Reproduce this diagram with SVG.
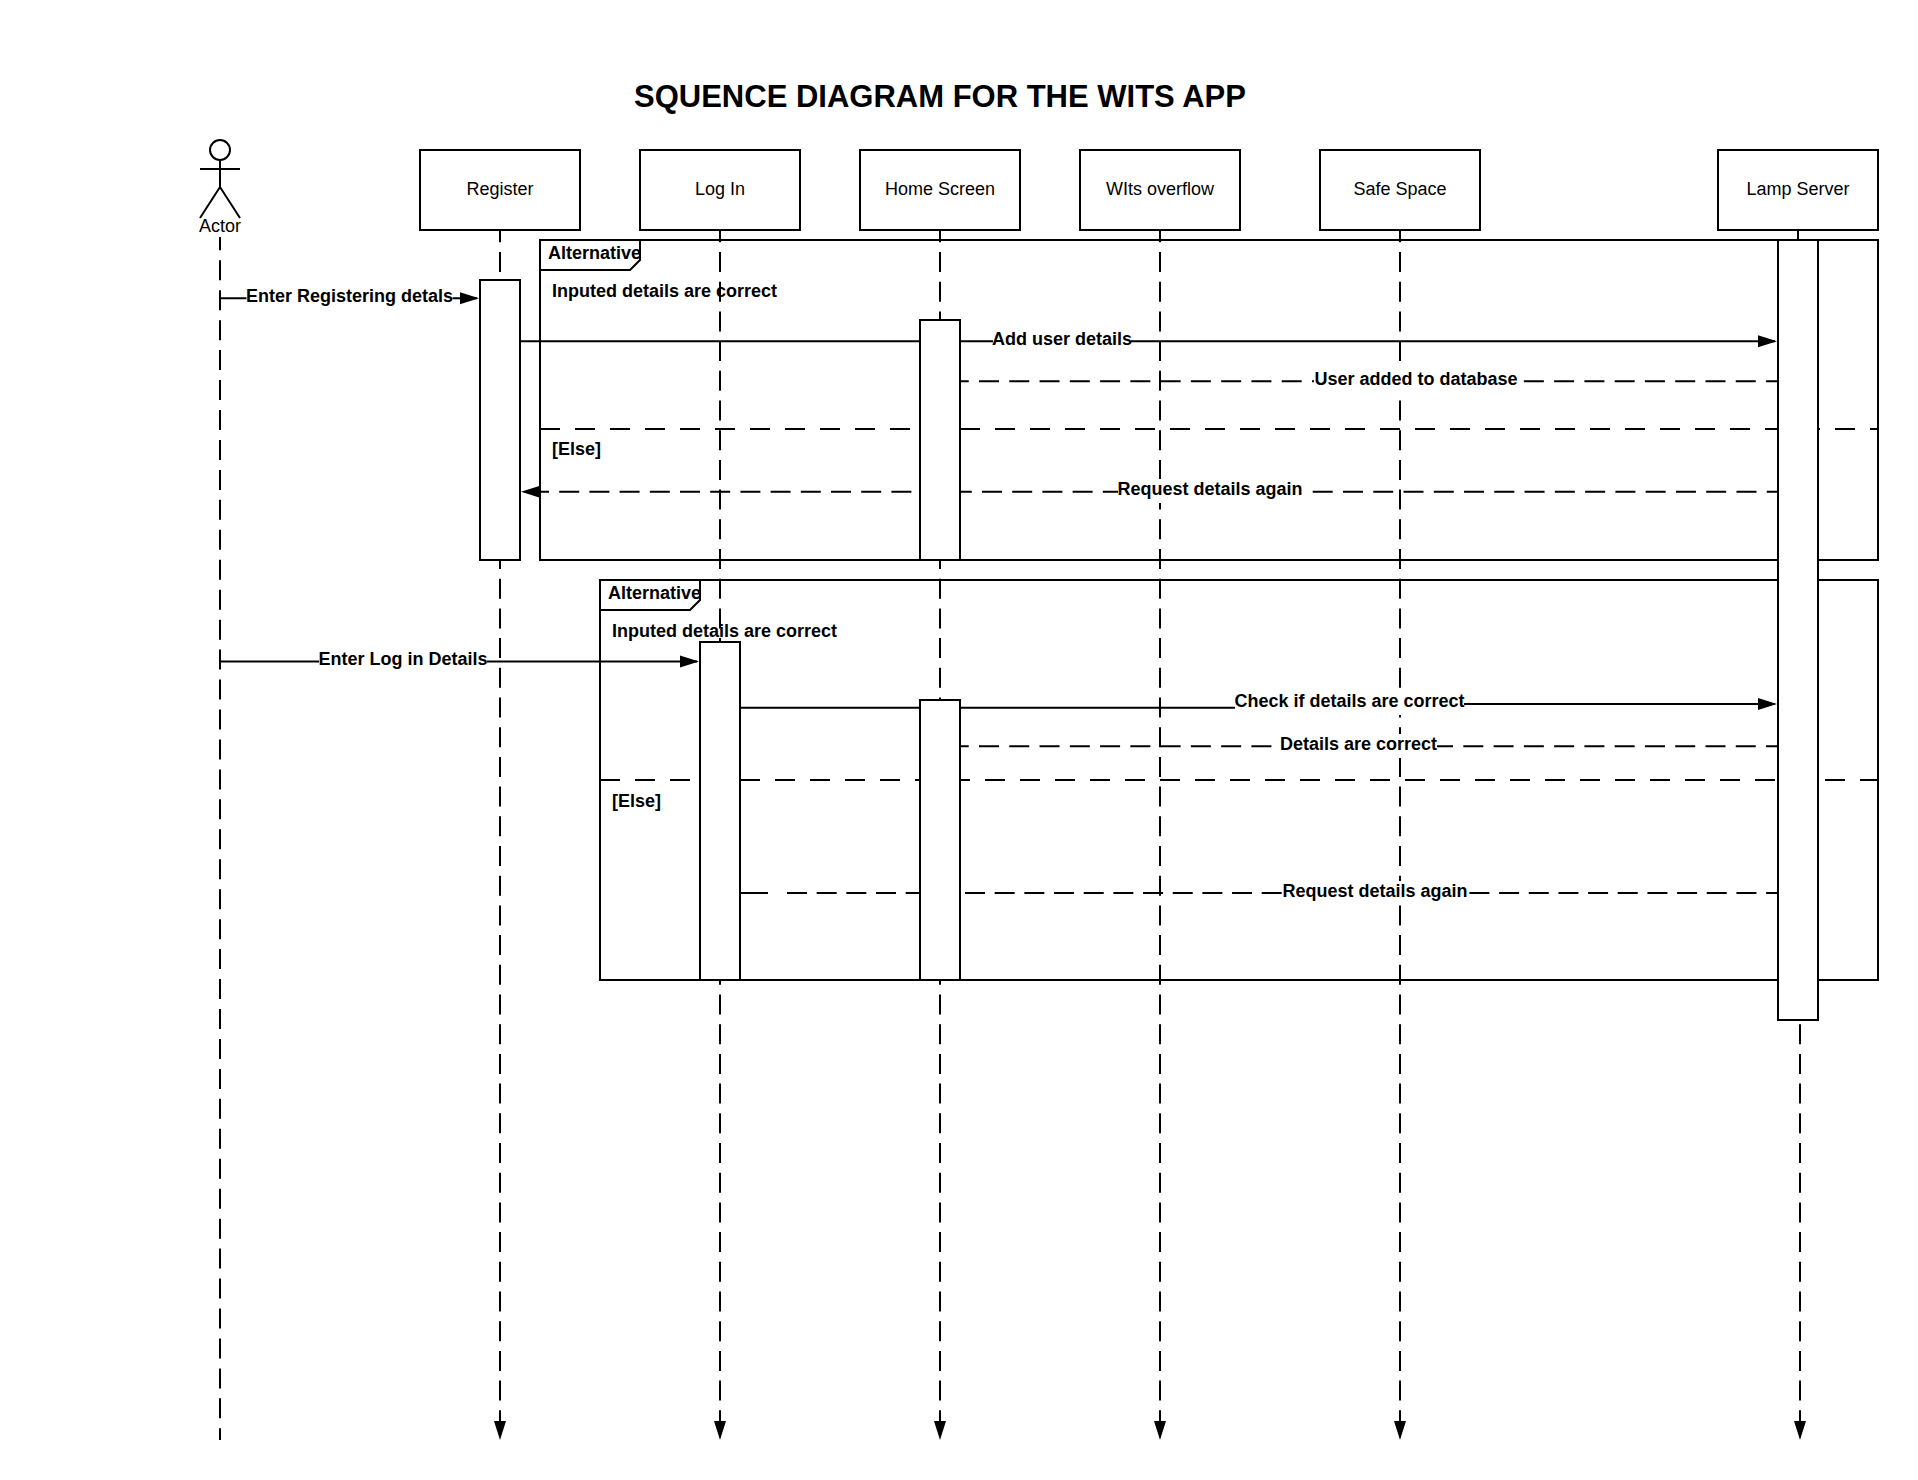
<svg xmlns="http://www.w3.org/2000/svg" width="1918" height="1480" viewBox="0 0 1918 1480">
<style>
text{font-family:"Liberation Sans",Arial,sans-serif;fill:#000}
.n{font-size:18px;text-anchor:middle}
.b{font-size:18px;font-weight:bold}
.m{font-size:18px;font-weight:bold;text-anchor:middle}
.w{fill:#fff;stroke:none}
.s{fill:#fff;stroke:#000;stroke-width:2}
.f{fill:none;stroke:#000;stroke-width:2}
.v{fill:none;stroke:#000;stroke-width:2;stroke-dasharray:20 15}
.l{fill:none;stroke:#000;stroke-width:2;stroke-dasharray:20 9.7}
.c{fill:none;stroke:#000;stroke-width:2}
.d{fill:none;stroke:#000;stroke-width:2;stroke-dasharray:20 10.27}
</style>
<defs>
<marker id="a" markerUnits="userSpaceOnUse" markerWidth="20" markerHeight="14" refX="17" refY="7" orient="auto"><path d="M0 1L19 7L0 13Z" fill="#000"/></marker>
<marker id="b" markerUnits="userSpaceOnUse" markerWidth="22" markerHeight="14" refX="4" refY="7" orient="auto"><path d="M21 1L2 7L21 13Z" fill="#000"/></marker>
</defs>
<rect width="1918" height="1480" fill="#fff"/>
<text id="title" x="940" y="107" text-anchor="middle" font-size="31" font-weight="bold">SQUENCE DIAGRAM FOR THE WITS APP</text>
<g id="frame1">
<rect class="f" x="540" y="240" width="1338" height="320"/>
<path class="s" d="M540 240H640V260L630 270H540Z"/>
<path class="v" d="M540 429H1878"/>
</g>
<g id="frame2">
<rect class="f" x="600" y="580" width="1278" height="400"/>
<path class="s" d="M600 580H700V600L690 610H600Z"/>
<path class="v" d="M600 780H1878"/>
</g>
<g id="connectors">
<path class="l" style="stroke-dasharray:20 9.95;stroke-dashoffset:6.7" d="M220 237V1440"/>
<path class="l" style="stroke-dashoffset:7.7" marker-end="url(#a)" d="M500 230V1438"/>
<path class="l" style="stroke-dashoffset:7.7" marker-end="url(#a)" d="M720 230V1438"/>
<path class="l" style="stroke-dashoffset:7.7" marker-end="url(#a)" d="M940 230V1438"/>
<path class="l" style="stroke-dashoffset:7.7" marker-end="url(#a)" d="M1160 230V1438"/>
<path class="l" style="stroke-dashoffset:7.7" marker-end="url(#a)" d="M1400 230V1438"/>
<path class="f" d="M1798 230V240"/>
<path class="l" marker-end="url(#a)" d="M1800 1024.200V1438"/>
<path class="c" marker-end="url(#a)" d="M220 298.300H477"/>
<path class="c" marker-end="url(#a)" d="M520 341.300H1775"/>
<path class="d" style="stroke-dashoffset:11.27" d="M960 381.200H1778"/>
<path class="d" style="stroke-dasharray:20 10.2;stroke-dashoffset:24.2" marker-start="url(#b)" d="M523 491.700H1118"/>
<path class="d" d="M1312.700 491.700H1778"/>
<path class="c" marker-end="url(#a)" d="M220 661.500H697"/>
<path class="c" d="M740 707.700H1235"/>
<path class="c" marker-end="url(#a)" d="M1464 704H1775"/>
<path class="d" style="stroke-dashoffset:11.27" d="M960 746.200H1778"/>
<path class="c" d="M740 893H768"/>
<path class="l" style="stroke-dasharray:20 9.67" d="M787 893H1778"/>
</g>
<g id="actor">
<circle class="s" cx="220" cy="150" r="10"/>
<path class="f" d="M220 160V187M200 169H240M200 218L220 187L240 218"/>
<text class="n" x="220" y="232">Actor</text>
</g>
<g id="register"><rect class="s" x="420" y="150" width="160" height="80"/><text class="n" x="500" y="195">Register</text></g>
<g id="login"><rect class="s" x="640" y="150" width="160" height="80"/><text class="n" x="720" y="195">Log In</text></g>
<g id="home"><rect class="s" x="860" y="150" width="160" height="80"/><text class="n" x="940" y="195">Home Screen</text></g>
<g id="wits"><rect class="s" x="1080" y="150" width="160" height="80"/><text class="n" x="1160" y="195">WIts overflow</text></g>
<g id="safe"><rect class="s" x="1320" y="150" width="160" height="80"/><text class="n" x="1400" y="195">Safe Space</text></g>
<g id="lamp"><rect class="s" x="1718" y="150" width="160" height="80"/><text class="n" x="1798" y="195">Lamp Server</text></g>
<g id="activations">
<rect class="s" x="480" y="280" width="40" height="280"/>
<rect class="s" x="920" y="320" width="40" height="240"/>
<rect class="s" x="700" y="642" width="40" height="338"/>
<rect class="s" x="920" y="700" width="40" height="280"/>
<rect class="s" x="1778" y="240" width="40" height="780"/>
</g>
<g id="labels">
<text class="b" x="548" y="259">Alternative</text>
<text class="b" x="552" y="297">Inputed details are correct</text>
<text class="b" x="552" y="455">[Else]</text>
<text class="b" x="608" y="599">Alternative</text>
<text class="b" x="612" y="637">Inputed details are correct</text>
<text class="b" x="612" y="807">[Else]</text>
<rect class="w" x="246.500" y="286" width="206" height="24"/><text class="m" x="349.500" y="302">Enter Registering detals</text>
<rect class="w" x="993" y="329" width="138" height="24"/><text class="m" x="1062" y="345">Add user details</text>
<rect class="w" x="1314" y="369" width="204" height="24"/><text class="m" x="1416" y="385">User added to database</text>
<rect class="w" x="1118" y="479" width="184" height="24"/><text class="m" x="1210" y="495">Request details again</text>
<rect class="w" x="319" y="649" width="168" height="24"/><text class="m" x="403" y="665">Enter Log in Details</text>
<rect class="w" x="1235" y="691" width="229" height="24"/><text class="m" x="1349.500" y="707">Check if details are correct</text>
<rect class="w" x="1280" y="734" width="157" height="24"/><text class="m" x="1358.500" y="750">Details are correct</text>
<rect class="w" x="1283" y="881" width="184" height="24"/><text class="m" x="1375" y="897">Request details again</text>
</g>
</svg>
